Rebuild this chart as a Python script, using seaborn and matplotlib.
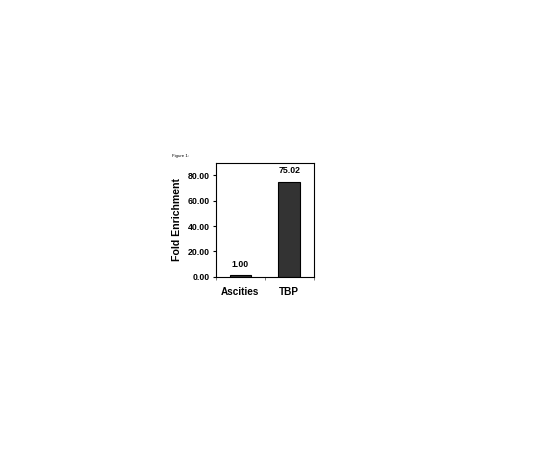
import matplotlib
matplotlib.use('Agg')
import matplotlib.pyplot as plt
import seaborn as sns
import pandas as pd

# data
categories = ['Ascities', 'TBP']
fold_enrichment = [1.00, 75.02]
y_ticks = [0, 20, 40, 60, 80]

df = pd.DataFrame({'sample': categories, 'fold': fold_enrichment})

sns.set_style('ticks', {'text.color': 'black', 'axes.labelcolor': 'black',
                        'xtick.color': 'black', 'ytick.color': 'black'})
plt.rcParams['font.family'] = ['Liberation Sans', 'DejaVu Sans']

fig = plt.figure(figsize=(5.4, 4.5), dpi=100)
ax = fig.add_axes([0.400, 0.385, 0.1806, 0.2533])

sns.barplot(data=df, x='sample', y='fold', color='#333333', width=0.445,
            edgecolor='black', linewidth=0.8, ax=ax)

for i, v in enumerate(fold_enrichment):
    ax.annotate(f'{v:.2f}', (i, v), xytext=(0, 5), textcoords='offset points',
                ha='center', va='bottom', fontsize=6.3, fontweight='bold',
                color='black')

ax.set_xlim(-0.5, 1.5)
ax.set_ylim(0, 90)
ax.set_yticks(y_ticks)
ax.set_yticklabels([f'{t:.2f}' for t in y_ticks], fontsize=6.3, fontweight='bold')
ax.set_xticks(range(len(categories)))
ax.set_xticklabels(categories, fontsize=7.2, fontweight='bold')
ax.set_xticks([-0.5, 0.5, 1.5], minor=True)
ax.tick_params(axis='x', which='major', length=0, pad=7.5)
ax.tick_params(axis='x', which='minor', length=2, width=0.6, color='#666666')
ax.tick_params(axis='y', length=2.5, width=0.8, pad=2)
ax.set_xlabel('')
ax.set_ylabel('Fold Enrichment', fontsize=7.6, fontweight='bold', labelpad=4)
for s in ax.spines.values():
    s.set_visible(True)
    s.set_linewidth(0.8)
    s.set_color('black')

fig.text(0.318, 0.651, 'Figure 1:', fontsize=3.2, color='black')

fig.savefig('out.png', dpi=100)
